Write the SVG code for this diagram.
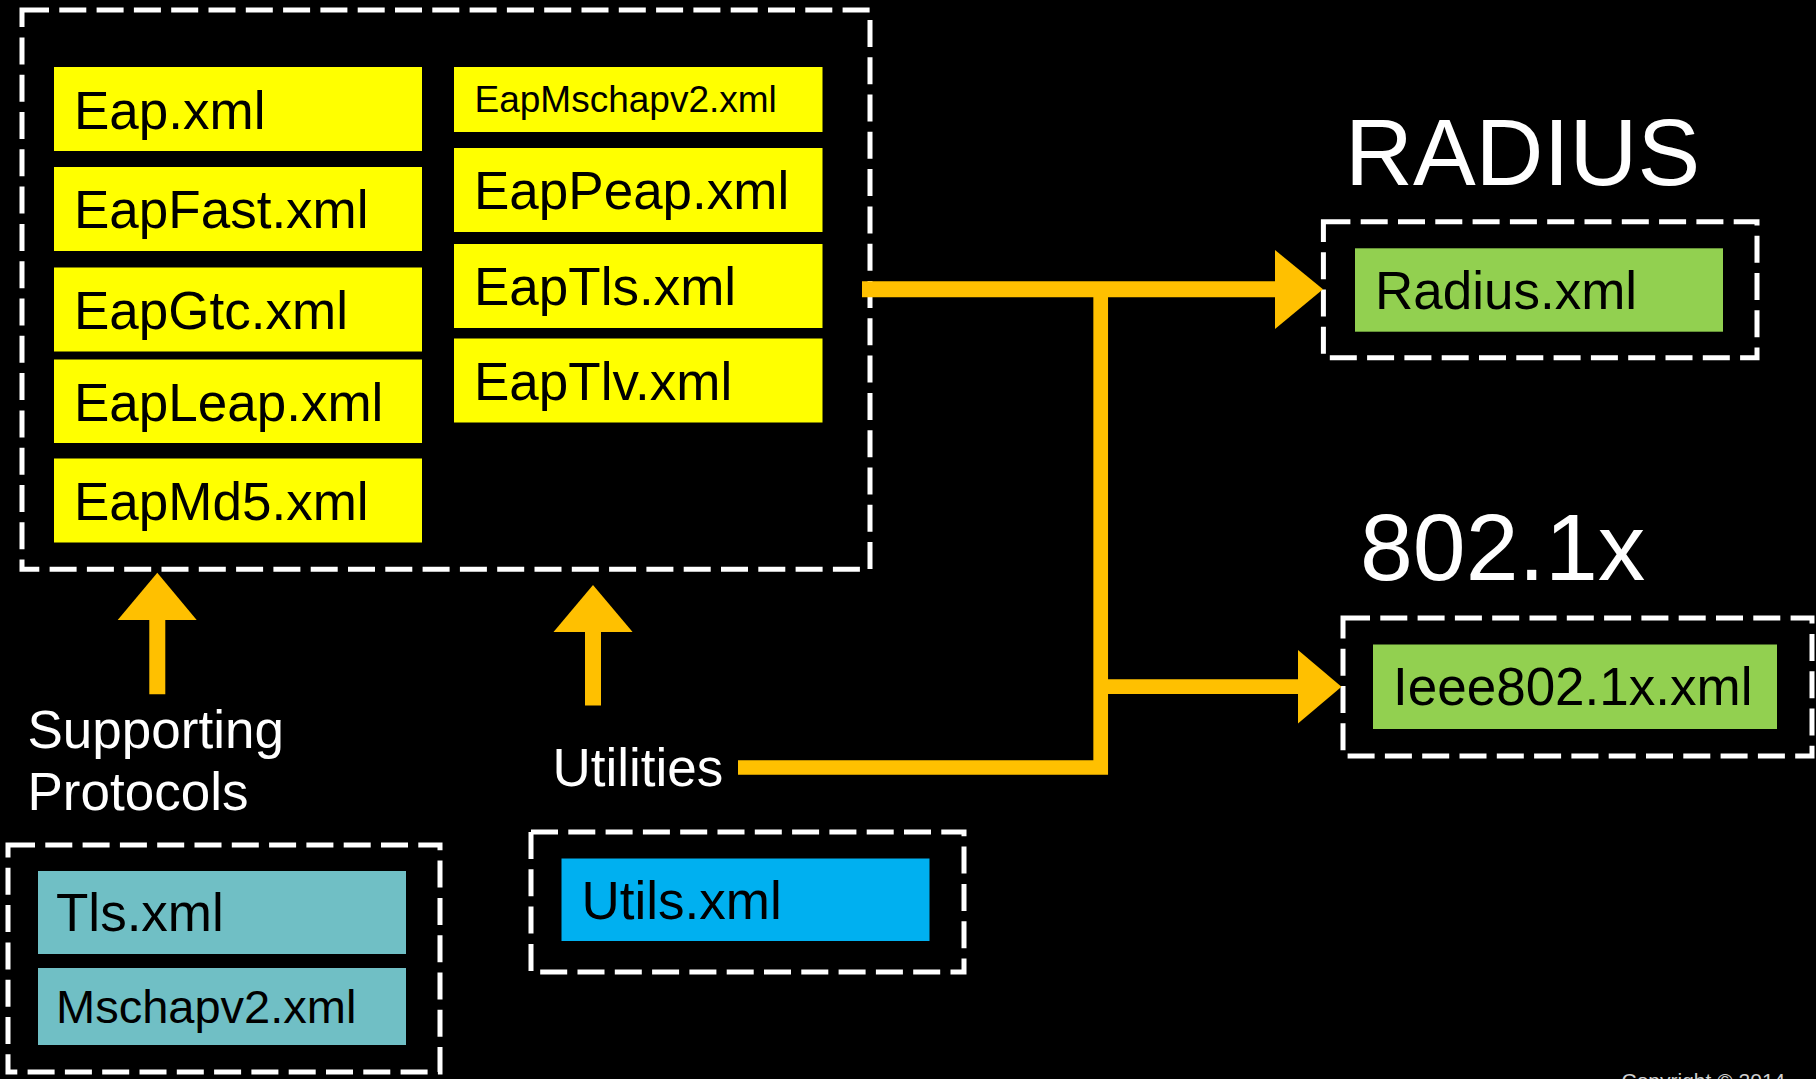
<svg xmlns="http://www.w3.org/2000/svg" width="1816" height="1079" viewBox="0 0 1816 1079">
<style>
.dash{fill:none;stroke:#FFFFFF;stroke-width:5;stroke-dasharray:27 10.3}
.y{fill:#FFFF00}
.g{fill:#92D050}
.t{fill:#70BFC5}
.b{fill:#00B0F0}
.lbl{font-family:"Liberation Sans",Arial,sans-serif;font-size:53px;fill:#000000}
.wt{font-family:"Liberation Sans",Arial,sans-serif;font-size:53px;fill:#FFFFFF}
.big{font-family:"Liberation Sans",Arial,sans-serif;font-size:94px;fill:#FFFFFF}
.ln{fill:none;stroke:#FFC000}
.ah{fill:#FFC000}
</style>
<rect x="0" y="0" width="1816" height="1079" fill="#000000"/>

<g id="eap-group">
<rect class="dash" x="22" y="10" width="848" height="559.3"/>
</g>
<g id="eap"><rect class="y" x="54" y="67" width="368" height="84"/><text class="lbl" x="74" y="128.5">Eap.xml</text></g>
<g id="eapfast"><rect class="y" x="54" y="167" width="368" height="84"/><text class="lbl" x="74" y="228">EapFast.xml</text></g>
<g id="eapgtc"><rect class="y" x="54" y="267.5" width="368" height="84"/><text class="lbl" x="74" y="328.5">EapGtc.xml</text></g>
<g id="eapleap"><rect class="y" x="54" y="359.5" width="368" height="83.5"/><text class="lbl" x="74" y="420.5">EapLeap.xml</text></g>
<g id="eapmd5"><rect class="y" x="54" y="458.5" width="368" height="84"/><text class="lbl" x="74" y="519.5">EapMd5.xml</text></g>
<g id="eapmschapv2"><rect class="y" x="454" y="67" width="368.5" height="65"/><text class="lbl" x="474.5" y="112" style="font-size:37px">EapMschapv2.xml</text></g>
<g id="eappeap"><rect class="y" x="454" y="148" width="368.5" height="84"/><text class="lbl" x="474" y="209">EapPeap.xml</text></g>
<g id="eaptls"><rect class="y" x="454" y="244" width="368.5" height="84"/><text class="lbl" x="474" y="305">EapTls.xml</text></g>
<g id="eaptlv"><rect class="y" x="454" y="338.5" width="368.5" height="84"/><text class="lbl" x="474" y="399.5">EapTlv.xml</text></g>

<g id="radius">
<text class="big" x="1345" y="185">RADIUS</text>
<rect class="dash" x="1323.4" y="221.7" width="433.6" height="136"/>
<rect class="g" x="1355" y="248.3" width="368" height="83.4"/>
<text class="lbl" x="1375" y="309">Radius.xml</text>
</g>

<g id="dot1x">
<text class="big" x="1360" y="580" style="font-size:95px">802.1x</text>
<rect class="dash" x="1343" y="618" width="469" height="138"/>
<rect class="g" x="1373" y="644.5" width="404" height="84.5"/>
<text class="lbl" x="1393" y="705">Ieee802.1x.xml</text>
</g>

<g id="supporting">
<text class="wt" x="27.5" y="748">Supporting</text>
<text class="wt" x="27.5" y="810">Protocols</text>
<rect class="dash" x="8" y="845" width="432" height="227"/>
<rect class="t" x="38" y="871" width="368" height="83"/>
<text class="lbl" x="56" y="931">Tls.xml</text>
<rect class="t" x="38" y="968" width="368" height="77"/>
<text class="lbl" x="56" y="1023" style="font-size:47px">Mschapv2.xml</text>
</g>

<g id="utilities">
<text class="wt" x="552.5" y="786">Utilities</text>
<rect class="dash" x="531" y="832" width="433" height="140"/>
<rect class="b" x="561.5" y="858.5" width="368" height="82.5"/>
<text class="lbl" x="581.5" y="918.5">Utils.xml</text>
</g>

<g id="connectors">
<path class="ln" d="M862 289.3 H1276" stroke-width="16"/>
<polygon class="ah" points="1275,250 1323,289.3 1275,329"/>
<path class="ln" d="M738 767.5 H1100.7 V282" stroke-width="14.7"/>
<path class="ln" d="M1100.7 686.7 H1299" stroke-width="14.7"/>
<polygon class="ah" points="1298,650 1341.5,686.7 1298,723.5"/>
<path class="ln" d="M157.3 694.3 V618" stroke-width="16"/>
<polygon class="ah" points="117.7,620 157.3,572.7 196.7,620"/>
<path class="ln" d="M593 705.6 V630" stroke-width="16"/>
<polygon class="ah" points="553.5,632 593,585 632.6,632"/>
</g>

<text x="1621.5" y="1087.5" style="font-family:'Liberation Sans',Arial,sans-serif;font-size:21px;fill:#D0D0D0">Copyright © 2014</text>
</svg>
